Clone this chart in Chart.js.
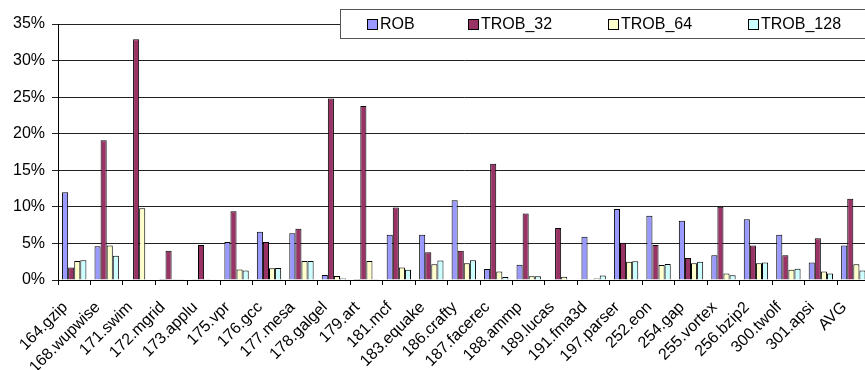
<!DOCTYPE html>
<html><head><meta charset="utf-8">
<script src="https://cdn.jsdelivr.net/npm/chart.js@4"></script>
<style>html,body{margin:0;padding:0;overflow:hidden;background:#fff}#wrap{width:880px;height:370px}</style>
</head><body><div id="wrap"><canvas id="c" width="880" height="370"></canvas></div>
<script>
const categories = ['164.gzip','168.wupwise','171.swim','172.mgrid','173.applu','175.vpr','176.gcc','177.mesa','178.galgel','179.art','181.mcf','183.equake','186.crafty','187.facerec','188.ammp','189.lucas','191.fma3d','197.parser','252.eon','254.gap','255.vortex','256.bzip2','300.twolf','301.apsi','AVG'];
const seriesNames = ['ROB','TROB_32','TROB_64','TROB_128'];
const rob     = [12.0, 4.6, 0,    0.15, 0.05, 5.2, 6.6, 6.4, 0.7, 0.15, 6.2, 6.2, 10.9, 1.5, 2.1, 0,   5.9, 9.7, 8.8, 8.1, 3.4, 8.3, 6.2, 2.4, 4.7];
const trob32  = [1.7, 19.1, 32.9, 4.0,  4.8,  9.4, 5.2, 7.0, 24.8, 23.8, 9.9, 3.8, 4.0, 15.9, 9.1, 7.1, 0.03, 5.1, 4.8, 3.0, 10.0, 4.7, 3.4, 5.7, 11.1];
const trob64  = [2.6, 4.7, 9.8,  0.05, 0.05, 1.45, 1.6, 2.6, 0.55, 2.6, 1.7, 2.15, 2.3, 1.15, 0.5, 0.45, 0.2, 2.5, 2.05, 2.3, 0.9, 2.3, 1.4, 1.15, 2.15];
const trob128 = [2.7, 3.3, 0,    0.05, 0.03, 1.3, 1.65, 2.6, 0.2, 0.05, 1.4, 2.65, 2.7, 0.4, 0.5, 0,   0.6, 2.55, 2.2, 2.5, 0.65, 2.4, 1.55, 0.9, 1.3];
const yTicks = [0, 5, 10, 15, 20, 25, 30, 35];
const colors = ['#9999FF', '#993366', '#FFFFCC', '#CCFFFF'];

const FONT = 'Liberation Sans, Arial, Helvetica, sans-serif';
const seriesValues = [rob, trob32, trob64, trob128];

const legendPlugin = {
  id: 'boxLegend',
  afterDraw(chart) {
    const ctx = chart.ctx;
    ctx.save();
    const bx = 340.5, by = 9.5, bw = 600, bh = 29;
    ctx.fillStyle = '#fff';
    ctx.fillRect(bx, by, bw, bh);
    ctx.strokeStyle = '#555';
    ctx.lineWidth = 1;
    ctx.strokeRect(bx, by, bw, bh);
    const xs = [367, 468, 608, 748];
    ctx.font = '16px ' + FONT;
    ctx.textBaseline = 'middle';
    ctx.textAlign = 'left';
    chart.data.datasets.forEach((ds, i) => {
      const x = xs[i];
      ctx.fillStyle = ds.backgroundColor;
      ctx.fillRect(x + 0.5, 19.5, 10, 10);
      ctx.strokeStyle = '#000';
      ctx.strokeRect(x + 0.5, 19.5, 10, 10);
      ctx.fillStyle = '#000';
      ctx.fillText(ds.label, x + 13, 25);
    });
    ctx.restore();
  }
};

new Chart(document.getElementById('c'), {
  type: 'bar',
  data: {
    labels: categories,
    datasets: seriesNames.map((n, i) => ({
      label: n,
      data: seriesValues[i],
      backgroundColor: colors[i],
      borderColor: '#000',
      borderWidth: 1,
      categoryPercentage: 0.75,
      barPercentage: 1.0
    }))
  },
  options: {
    responsive: false,
    animation: false,
    devicePixelRatio: 1,
    layout: { padding: { top: 24, right: 5, left: 0, bottom: 0 } },
    plugins: { legend: { display: false }, tooltip: { enabled: false } },
    scales: {
      x: {
        grid: { display: true, drawOnChartArea: false, offset: true, color: '#000', tickLength: 5 },
        border: { color: '#000' },
        ticks: { autoSkip: false, maxRotation: 45, minRotation: 45, color: '#000', padding: 13, labelOffset: -9, font: { size: 16, family: FONT } },
        afterFit(s) { s.height = 90; }
      },
      y: {
        min: 0, max: 35,
        afterBuildTicks(s) { s.ticks = yTicks.map(v => ({ value: v })); },
        grid: { color: '#222', tickLength: 6 },
        border: { color: '#000' },
        ticks: { color: '#000', padding: 7, font: { size: 16, family: FONT }, callback: v => v + '%' },
        afterFit(s) { s.width = 58; }
      }
    }
  },
  plugins: [legendPlugin]
});
</script>
</body></html>
